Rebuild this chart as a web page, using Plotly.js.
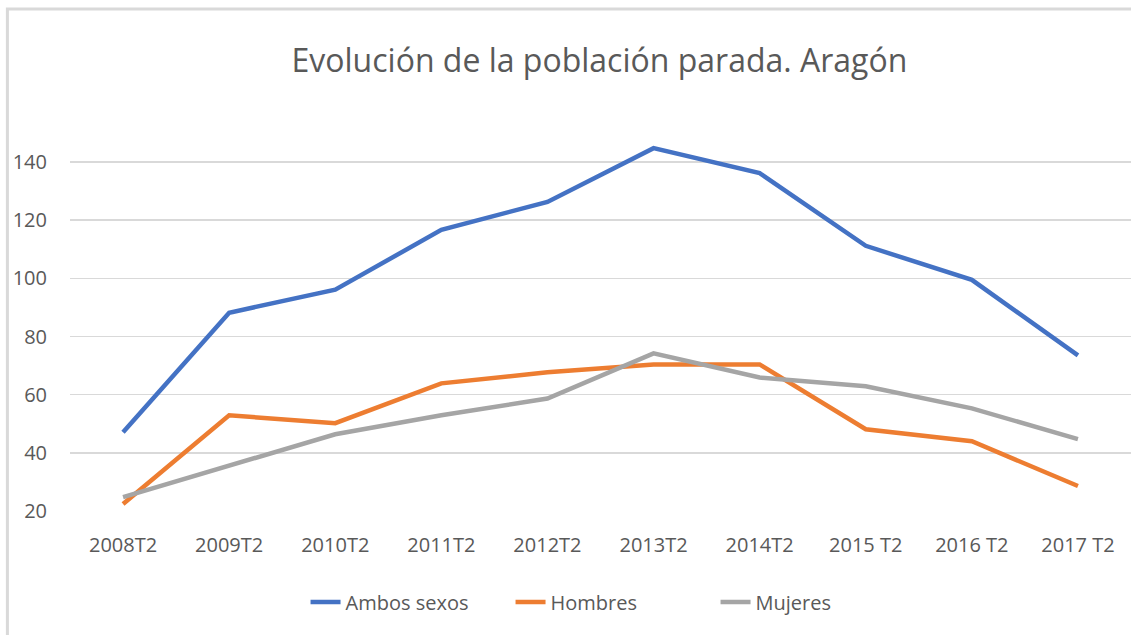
<!DOCTYPE html>
<html>
<head>
<meta charset="utf-8">
<script src="https://cdn.plot.ly/plotly-3.0.1.min.js"></script>
<style>html,body{margin:0;padding:0;background:#fff;}#chart{width:1131px;height:635px;}</style>
</head>
<body>
<div id="chart"></div>
<script>
const categories = ["2008T2","2009T2","2010T2","2011T2","2012T2","2013T2","2014T2","2015 T2","2016 T2","2017 T2"];
const ambosSexos = [47.1, 88.2, 96.1, 116.7, 126.3, 144.8, 136.2, 111.2, 99.5, 73.5];
const hombres = [22.4, 52.9, 50.2, 63.9, 67.7, 70.4, 70.4, 48.1, 44.0, 28.6];
const mujeres = [24.8, 35.8, 46.4, 52.9, 58.7, 74.2, 65.9, 62.9, 55.3, 44.7];
const yTicks = [20, 40, 60, 80, 100, 120, 140];

const font = "Open Sans, Noto Sans, sans-serif";
function tr(name, y, color) {
  return {type: "scatter", mode: "lines", name: name, x: categories, y: y,
    line: {color: color, width: 4.5, shape: "linear"}, cliponaxis: false};
}
const data = [
  tr("Ambos sexos", ambosSexos, "#4472C4"),
  tr("Hombres", hombres, "#ED7D31"),
  tr("Mujeres", mujeres, "#A5A5A5")
];
const layout = {
  width: 1131, height: 635,
  margin: {l: 70, r: 0, t: 133, b: 124},
  paper_bgcolor: "#fff", plot_bgcolor: "#fff",
  font: {family: font, color: "#595959", size: 20},
  title: {text: "Evolución de la población parada. Aragón", x: 0.53, xanchor: "center", y: 0.905, yanchor: "middle",
    font: {family: font, size: 32, color: "#595959"}},
  xaxis: {type: "category", range: [-0.5, 9.5], showgrid: false, zeroline: false, showline: false,
    ticks: "", tickfont: {size: 20, color: "#595959"}, ticklabelstandoff: 20, fixedrange: true},
  yaxis: {range: [20, 150], tickvals: yTicks, ticktext: yTicks.map(String), showgrid: true, gridcolor: "#d9d9d9", gridwidth: 1.5,
    zeroline: false, showline: false, ticks: "", tickfont: {size: 20, color: "#595959"}, ticklabelstandoff: 22},
  showlegend: true,
  legend: {orientation: "h", x: 0.222, xanchor: "left", y: -0.241, yanchor: "middle",
    font: {size: 20, color: "#595959"}, itemwidth: 30, entrywidth: 160, entrywidthmode: "pixels", bgcolor: "rgba(0,0,0,0)"},
  shapes: [{type: "rect", xref: "paper", yref: "paper", x0: -0.059, x1: 1.05, y0: -0.4, y1: 1.328,
    line: {color: "#d9d9d9", width: 3}, fillcolor: "rgba(0,0,0,0)", layer: "below"}]
};
Plotly.newPlot("chart", data, layout, {displayModeBar: false, staticPlot: true});
</script>
</body>
</html>
